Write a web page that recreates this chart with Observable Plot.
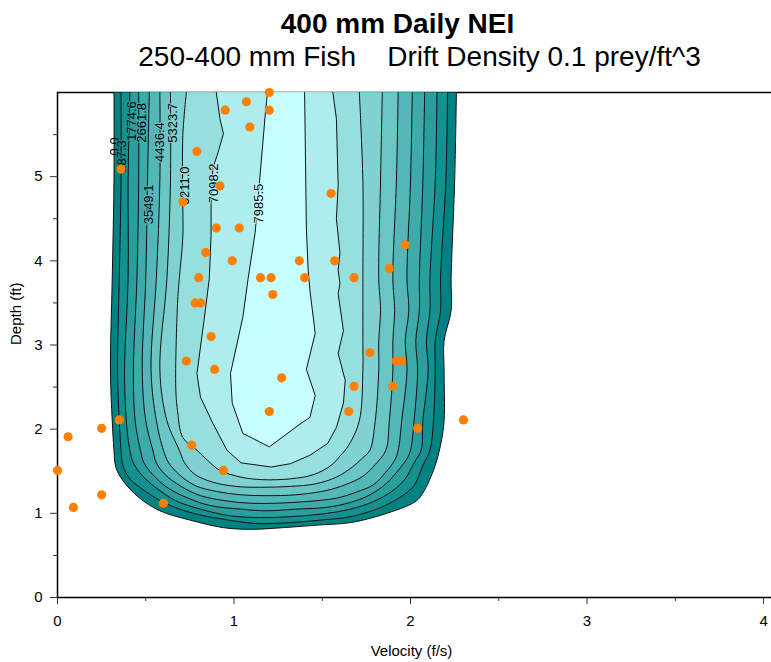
<!DOCTYPE html>
<html><head><meta charset="utf-8">
<script src="https://cdn.jsdelivr.net/npm/d3@7"></script>
<script src="https://cdn.jsdelivr.net/npm/@observablehq/plot@0.6"></script>
<style>
body{margin:0;background:#fff;}
#chart{width:771px;height:662px;}
</style></head><body>
<div id="chart"></div>
<script>
// Contour levels (NEI) and their labels
const levels = [0.0, 887.3, 1774.6, 2661.8, 3549.1, 4436.4, 5323.7, 6211.0, 7098.2, 7985.5];
const levelLabels = ["0.0","887.3","1774.6","2661.8","3549.1","4436.4","5323.7","6211.0","7098.2","7985.5"];
const labelV = [0.323, 0.366, 0.42, 0.476, 0.517, 0.58, 0.655, 0.72, 0.886, 1.14];
const labelD = [5.36, 5.24, 5.66, 5.64, 4.67, 5.41, 5.64, 4.89, 4.92, 4.68];
const bandColors = ["#008282","#139090","#2a9d9d","#3eaaaa","#54b7b7","#6ac5c5","#80d2d2","#96dfdf","#aeeded","#c6ffff"];

// Contour boundaries: [velocity (f/s), depth (ft)]
const c0 = [[0.32,6],[0.32,4.95],[0.31,3.79],[0.30,2.70],[0.31,2.10],[0.32,1.75],[0.33,1.55],[0.37,1.39],[0.46,1.19],[0.58,1.03],[0.75,0.92],[0.94,0.83],[1.09,0.81],[1.28,0.83],[1.47,0.86],[1.66,0.89],[1.85,0.99],[2.02,1.13],[2.06,1.21],[2.13,1.51],[2.17,1.81],[2.19,2.10],[2.19,2.70],[2.19,3.05],[2.23,3.41],[2.23,3.79],[2.25,4.95],[2.26,6]];
const c1 = [[0.36,6],[0.36,4.95],[0.35,3.79],[0.34,2.70],[0.35,2.10],[0.36,1.75],[0.37,1.57],[0.41,1.41],[0.50,1.26],[0.61,1.12],[0.77,1.00],[0.94,0.93],[1.12,0.88],[1.32,0.89],[1.49,0.92],[1.66,0.96],[1.82,1.06],[1.94,1.19],[2.02,1.33],[2.07,1.57],[2.11,1.75],[2.13,2.10],[2.14,2.70],[2.14,3.05],[2.17,3.41],[2.17,3.79],[2.20,4.95],[2.21,6]];
const c2 = [[0.41,6],[0.40,4.95],[0.40,3.79],[0.38,2.70],[0.39,2.10],[0.41,1.75],[0.43,1.60],[0.48,1.45],[0.56,1.30],[0.67,1.15],[0.81,1.05],[0.98,0.97],[1.15,0.95],[1.32,0.96],[1.49,0.99],[1.66,1.05],[1.79,1.14],[1.90,1.27],[1.97,1.41],[2.02,1.60],[2.06,1.75],[2.07,2.10],[2.10,2.70],[2.09,3.05],[2.11,3.41],[2.11,3.79],[2.14,4.95],[2.15,6]];
const c3 = [[0.46,6],[0.46,4.95],[0.45,3.79],[0.43,2.70],[0.44,2.10],[0.47,1.75],[0.49,1.60],[0.54,1.46],[0.62,1.31],[0.74,1.18],[0.87,1.09],[1.04,1.05],[1.18,1.03],[1.35,1.05],[1.52,1.07],[1.66,1.13],[1.77,1.22],[1.86,1.35],[1.93,1.51],[1.98,1.65],[2.00,1.75],[2.02,2.10],[2.04,2.70],[2.03,3.05],[2.05,3.41],[2.05,3.79],[2.07,4.95],[2.08,6]];
const c4 = [[0.52,6],[0.51,4.95],[0.50,3.79],[0.48,2.70],[0.50,2.10],[0.54,1.75],[0.56,1.60],[0.61,1.46],[0.70,1.32],[0.81,1.21],[0.95,1.15],[1.09,1.12],[1.24,1.12],[1.41,1.14],[1.58,1.18],[1.69,1.25],[1.79,1.34],[1.86,1.49],[1.91,1.63],[1.93,1.75],[1.95,2.10],[1.98,2.70],[1.97,3.05],[1.99,3.41],[1.98,3.79],[2.00,4.95],[2.01,6]];
const c5 = [[0.58,6],[0.58,4.95],[0.56,3.79],[0.53,2.70],[0.56,2.10],[0.60,1.75],[0.63,1.60],[0.69,1.46],[0.78,1.33],[0.90,1.26],[1.04,1.22],[1.18,1.21],[1.35,1.22],[1.52,1.27],[1.63,1.34],[1.73,1.44],[1.80,1.58],[1.86,1.75],[1.88,2.10],[1.90,2.70],[1.90,3.05],[1.91,3.41],[1.90,3.79],[1.92,4.95],[1.93,6]];
const c6 = [[0.64,6],[0.64,4.95],[0.62,3.79],[0.58,2.70],[0.62,2.10],[0.69,1.75],[0.72,1.60],[0.78,1.46],[0.88,1.37],[1.01,1.32],[1.15,1.31],[1.32,1.32],[1.46,1.35],[1.58,1.43],[1.67,1.55],[1.73,1.66],[1.77,1.75],[1.80,2.10],[1.82,2.70],[1.82,3.05],[1.83,3.41],[1.82,3.79],[1.83,4.95],[1.84,6]];
const c7 = [[0.73,6],[0.71,5.49],[0.71,4.67],[0.71,4.28],[0.69,3.79],[0.68,3.49],[0.67,2.50],[0.68,2.22],[0.71,1.90],[0.79,1.75],[0.85,1.63],[0.92,1.51],[1.04,1.43],[1.16,1.40],[1.32,1.41],[1.45,1.46],[1.55,1.57],[1.60,1.68],[1.65,1.81],[1.71,2.10],[1.73,2.70],[1.73,3.05],[1.73,3.41],[1.73,3.79],[1.73,4.95],[1.71,6]];
const c8 = [[0.90,6],[0.92,5.69],[0.94,5.51],[0.91,5.29],[0.88,5.10],[0.87,4.67],[0.87,4.30],[0.86,3.79],[0.83,3.29],[0.79,2.66],[0.81,2.38],[0.88,2.07],[0.96,1.75],[1.04,1.60],[1.21,1.55],[1.32,1.59],[1.43,1.69],[1.53,1.83],[1.58,2.02],[1.62,2.31],[1.63,2.58],[1.59,2.90],[1.62,3.17],[1.59,3.61],[1.60,3.73],[1.59,3.89],[1.60,4.10],[1.58,4.50],[1.59,4.90],[1.58,5.69],[1.56,6]];
const c9 = [[1.19,6],[1.18,5.81],[1.12,4.34],[1.08,3.79],[1.05,3.33],[0.98,2.66],[0.99,2.31],[1.05,1.95],[1.20,1.79],[1.38,2.07],[1.43,2.14],[1.46,2.40],[1.41,2.71],[1.46,3.14],[1.43,3.65],[1.42,3.89],[1.41,4.38],[1.40,6]];
const contours = [c0, c1, c2, c3, c4, c5, c6, c7, c8, c9];

// Observed fish positions
const obsV = [1.20,1.07,0.95,1.20,1.09,0.79,0.36,0.92,0.71,1.55,0.90,1.03,0.84,0.99,0.80,1.15,1.21,1.37,1.40,1.57,1.68,1.88,1.97,1.22,0.78,0.81,0.87,0.73,0.89,1.27,1.77,1.92,1.95,1.68,1.90,1.65,1.20,0.76,0.94,2.04,2.30,0.35,0.25,0.06,0.00,0.25,0.09,0.60];
const obsD = [6.00,5.89,5.79,5.79,5.59,5.30,5.09,4.89,4.70,4.80,4.39,4.39,4.10,4.00,3.80,3.80,3.80,4.00,3.80,4.00,3.80,3.91,4.19,3.60,3.50,3.50,3.10,2.81,2.71,2.61,2.91,2.81,2.81,2.51,2.51,2.21,2.21,1.81,1.51,2.01,2.11,2.11,2.01,1.91,1.51,1.22,1.07,1.12];

// Axis ticks and text
const xMajor = [0,1,2,3,4], xMinor = [0.5,1.5,2.5,3.5];
const yMajor = [0,1,2,3,4,5], yMinor = [0.5,1.5,2.5,3.5,4.5,5.5];
const titleText = "400 mm Daily NEI";
const subtitleText = "250-400 mm Fish\u00a0\u00a0\u00a0\u00a0Drift Density 0.1 prey/ft^3";
const xLabel = "Velocity (f/s)", yLabel = "Depth (ft)";

const labels = levelLabels.map((t,i)=>({t, v: labelV[i], d: labelD[i], c: bandColors[i]}));
const dots = obsV.map((v,i)=>({v, d: obsD[i]}));
const fmt = d3.format("d");

const marks = [];
marks.push(Plot.ruleY([6], {stroke: "#000", strokeWidth: 1.5}));
contours.forEach((c, i) => {
  marks.push(Plot.line(c, {x: p => p[0], y: p => p[1], fill: bandColors[i], stroke: "none", curve: i < 8 ? "catmull-rom" : "linear"}));
});
contours.forEach((c, i) => {
  marks.push(Plot.line(c, {x: p => p[0], y: p => p[1], stroke: "#111", strokeWidth: 1, curve: i < 8 ? "catmull-rom" : "linear"}));
});
labels.forEach((l, i) => {
  marks.push(Plot.text([l], {x: "v", y: "d", text: "t", rotate: -90, fontSize: 13, fill: "#000",
    stroke: i === 0 ? "none" : l.c, strokeWidth: 2}));
});
marks.push(
  Plot.axisX({ticks: xMajor, tickSize: 7, tickPadding: 11, fontSize: 15, tickFormat: fmt, label: null, stroke: "#333"}),
  Plot.axisX({ticks: xMinor, tickSize: 4, tickFormat: () => "", label: null, stroke: "#333"}),
  Plot.axisY({ticks: yMajor, tickSize: 7, tickPadding: 8, fontSize: 15, tickFormat: fmt, label: null, stroke: "#333"}),
  Plot.axisY({ticks: yMinor, tickSize: 4, tickFormat: () => "", label: null, stroke: "#333"}),
  Plot.ruleX([0], {stroke: "#000", strokeWidth: 1.5}),
  Plot.ruleY([0], {stroke: "#000", strokeWidth: 1.5}),
  Plot.dot(dots, {x: "v", y: "d", r: 4.6, fill: "#ff8000", stroke: "none"}),
  Plot.text([xLabel], {frameAnchor: "bottom", dx: -3, dy: 54, lineAnchor: "middle", fontSize: 15, fill: "#000"}),
  Plot.text([yLabel], {frameAnchor: "left", dx: -41, dy: 0, lineAnchor: "middle", rotate: -90, fontSize: 15, fill: "#000"}),
  Plot.text([titleText], {frameAnchor: "top-left", dx: 397 - 57, dy: 24 - 92, textAnchor: "middle", lineAnchor: "middle", fontSize: 28, fontWeight: "bold", fill: "#000"}),
  Plot.text([subtitleText], {frameAnchor: "top-left", dx: 419 - 57, dy: 57 - 92, textAnchor: "middle", lineAnchor: "middle", fontSize: 28, fill: "#000"})
);

const chart = Plot.plot({
  width: 771, height: 662,
  marginLeft: 57, marginRight: 0, marginTop: 92, marginBottom: 65,
  x: {domain: [0, 4.045]},
  y: {domain: [0, 6]},
  style: {fontFamily: "'Liberation Sans', Arial, sans-serif", fontSize: "15px", overflow: "visible", background: "#fff", color: "#000"},
  marks
});
document.getElementById("chart").appendChild(chart);
</script>
</body></html>
